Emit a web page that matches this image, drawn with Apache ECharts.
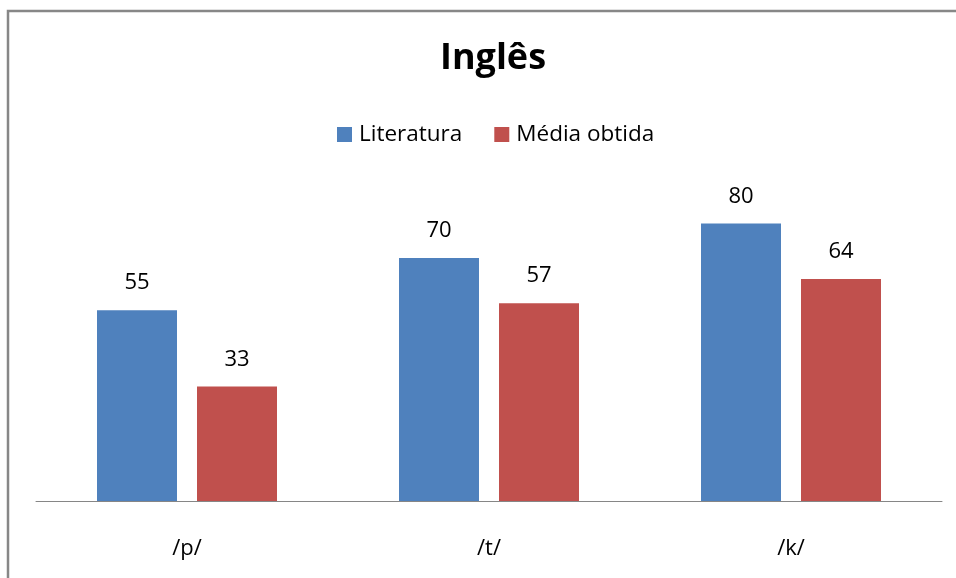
<!DOCTYPE html>
<html>
<head>
<meta charset="utf-8">
<script src="https://cdn.jsdelivr.net/npm/echarts@6/dist/echarts.min.js"></script>
<style>html,body{margin:0;padding:0;background:#fff;}#c{width:956px;height:578px;}</style>
</head>
<body>
<div id="c"></div>
<script>
const categories = ['/p/', '/t/', '/k/'];
const literatura = [55, 70, 80];
const mediaObtida = [33, 57, 64];
const seriesNames = ['Literatura', 'Média obtida'];

const chart = echarts.init(document.getElementById('c'), null, {renderer: 'canvas'});
const font = '"Open Sans", "Noto Sans", sans-serif';
const labelStyle = {show: true, position: 'top', distance: 16, color: '#000', fontSize: 22, fontFamily: font};
chart.setOption({
  animation: false,
  backgroundColor: '#fff',
  graphic: [{
    type: 'rect', shape: {x: 8, y: 11, width: 1000, height: 700},
    style: {fill: 'none', stroke: '#878787', lineWidth: 2.5}, silent: true, z: 100
  }],
  title: {
    text: 'Inglês', left: 488, textAlign: 'center', top: 36,
    textStyle: {fontFamily: font, fontWeight: 'bold', fontSize: 36, color: '#000'}
  },
  legend: {
    data: seriesNames, left: 332, top: 118, itemWidth: 15, itemHeight: 15, itemGap: 32,
    icon: 'rect',
    textStyle: {fontFamily: font, fontSize: 22.5, color: '#000', padding: [0, 0, 0, 2]}
  },
  grid: {left: 36, right: 14, top: 188.7, bottom: 77, containLabel: false},
  xAxis: {
    type: 'category', data: categories,
    axisLine: {lineStyle: {color: '#868686', width: 1}},
    axisTick: {show: false},
    axisLabel: {color: '#000', fontSize: 22, fontFamily: font, margin: 37}
  },
  yAxis: {type: 'value', min: 0, max: 90, show: false, splitLine: {show: false}},
  series: [
    {name: seriesNames[0], type: 'bar', data: literatura, barWidth: 80, barGap: '25%',
     itemStyle: {color: '#4F81BD'}, label: labelStyle},
    {name: seriesNames[1], type: 'bar', data: mediaObtida, barWidth: 80, barGap: '25%',
     itemStyle: {color: '#C0504D'}, label: labelStyle}
  ]
});
</script>
</body>
</html>
